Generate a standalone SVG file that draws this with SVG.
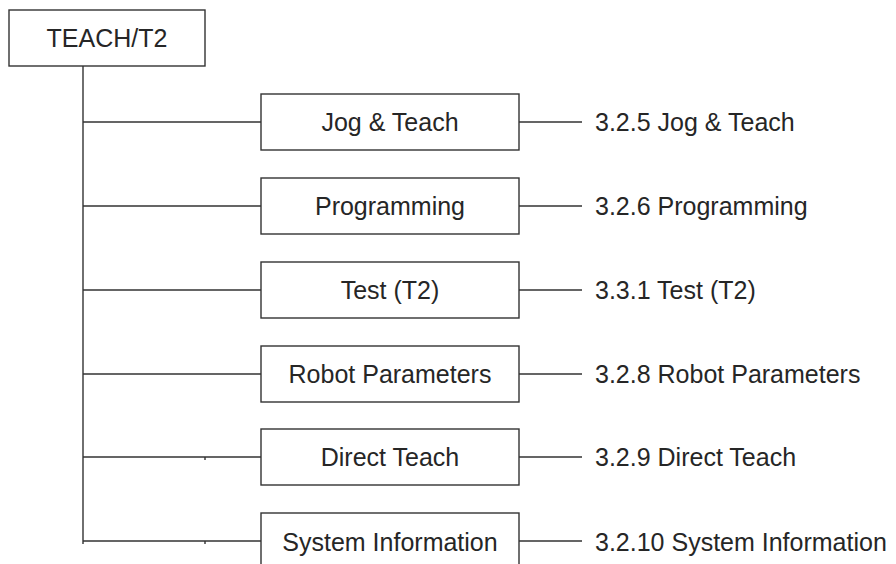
<svg xmlns="http://www.w3.org/2000/svg" width="896" height="564" viewBox="0 0 896 564">
<style>
.box{fill:#fff;stroke:#333;stroke-width:1.4}
.ln{stroke:#333;stroke-width:1.4;fill:none}
.t{font-family:"Liberation Sans",Arial,sans-serif;font-size:25px;fill:#262626}
.c{text-anchor:middle}
</style>
<rect width="896" height="564" fill="#fff"/>
<g id="connectors">
<path class="ln" d="M83 66V541"/>
<path class="ln" d="M83 122H261M83 206H261M83 290H261M83 374H261M83 457H261M83 541H261"/>
<path class="ln" d="M519 122H582M519 206H582M519 290H582M519 374H582M519 457H582M519 541H582"/>
<path class="ln" d="M9 37H12M205 457V460M205 541V544M83 541V544"/>
</g>
<g id="teach">
<rect class="box" x="9" y="10" width="196" height="56"/>
<text class="t c" x="107" y="47">TEACH/T2</text>
</g>
<g id="jog">
<rect class="box" x="261" y="94" width="258" height="56"/>
<text class="t c" x="390" y="131">Jog &amp; Teach</text>
<text class="t" x="595" y="131">3.2.5 Jog &amp; Teach</text>
</g>
<g id="programming">
<rect class="box" x="261" y="178" width="258" height="56"/>
<text class="t c" x="390" y="215">Programming</text>
<text class="t" x="595" y="215">3.2.6 Programming</text>
</g>
<g id="test">
<rect class="box" x="261" y="262" width="258" height="56"/>
<text class="t c" x="390" y="299">Test (T2)</text>
<text class="t" x="595" y="299">3.3.1 Test (T2)</text>
</g>
<g id="robot">
<rect class="box" x="261" y="346" width="258" height="56"/>
<text class="t c" x="390" y="383">Robot Parameters</text>
<text class="t" x="595" y="383">3.2.8 Robot Parameters</text>
</g>
<g id="direct">
<rect class="box" x="261" y="429" width="258" height="56"/>
<text class="t c" x="390" y="466">Direct Teach</text>
<text class="t" x="595" y="466">3.2.9 Direct Teach</text>
</g>
<g id="sysinfo">
<rect class="box" x="261" y="513" width="258" height="60"/>
<text class="t c" x="390" y="551">System Information</text>
<text class="t" x="595" y="551">3.2.10 System Information</text>
</g>
</svg>
